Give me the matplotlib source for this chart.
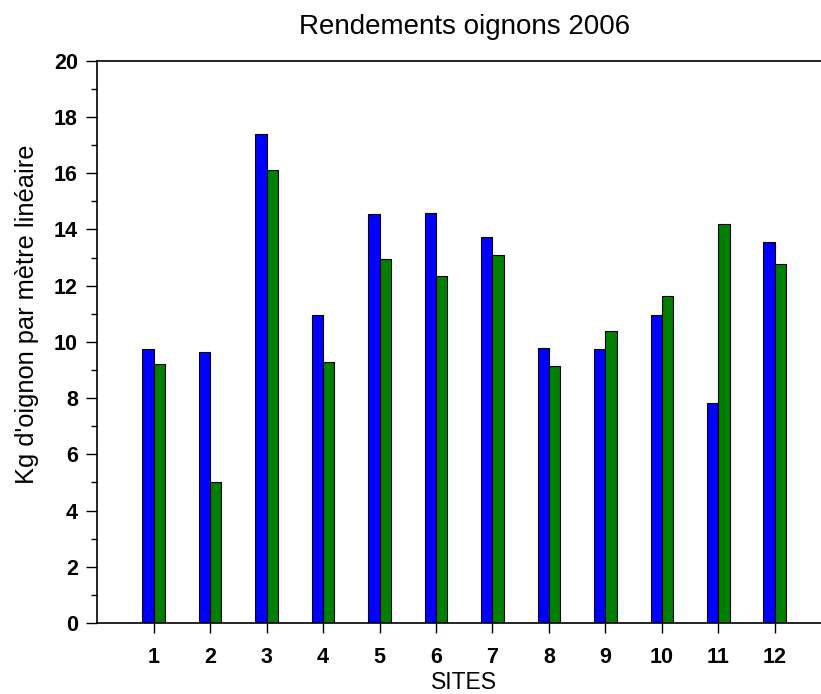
import numpy as np
import matplotlib
matplotlib.use('Agg')
import matplotlib.pyplot as plt
from matplotlib.ticker import MultipleLocator

plt.rcParams['font.family'] = ['Liberation Sans', 'DejaVu Sans']

sites = ['1', '2', '3', '4', '5', '6', '7', '8', '9', '10', '11', '12']
serie_bleue = [9.75, 9.63, 17.40, 10.94, 14.54, 14.58, 13.72, 9.79, 9.75, 10.95, 7.83, 13.55]
serie_verte = [9.22, 5.01, 16.13, 9.28, 12.93, 12.34, 13.08, 9.15, 10.38, 11.63, 14.19, 12.77]

fig = plt.figure(figsize=(8.21, 6.94), dpi=100)
ax = fig.add_axes([0.1185, 0.1023, 0.8815, 0.8102])

x = np.arange(1, len(sites) + 1)
ax.bar(x, serie_bleue, width=-0.2, align='edge', color='#0000ff', edgecolor='black', linewidth=0.8)
ax.bar(x, serie_verte, width=0.2, align='edge', color='#008000', edgecolor='black', linewidth=0.8)

ax.set_xlim(0, 12.82)
ax.set_ylim(0, 20)
ax.set_xticks(x)
ax.set_xticklabels(sites)
ax.yaxis.set_major_locator(MultipleLocator(2))
ax.yaxis.set_minor_locator(MultipleLocator(1))
ax.tick_params(axis='both', which='major', length=8, width=1, labelsize=15.5)
ax.tick_params(axis='x', which='major', length=7, pad=10)
ax.tick_params(axis='y', which='major', pad=6)
ax.tick_params(axis='y', which='minor', length=4, width=1)
for lab in ax.get_xticklabels() + ax.get_yticklabels():
    lab.set_fontweight('bold')

ax.spines['right'].set_visible(False)
for s in ['left', 'bottom', 'top']:
    ax.spines[s].set_linewidth(1.2)

ax.set_title('Rendements oignons 2006', fontsize=20, pad=19, x=0.507)
ax.set_xlabel('SITES', fontsize=16.5, labelpad=0)
ax.xaxis.set_label_coords(0.507, -0.086)
ax.set_ylabel("Kg d'oignon par mètre linéaire", fontsize=18.3)
ax.yaxis.set_label_coords(-0.08, 0.5495)

fig.savefig('out.png', dpi=100)
